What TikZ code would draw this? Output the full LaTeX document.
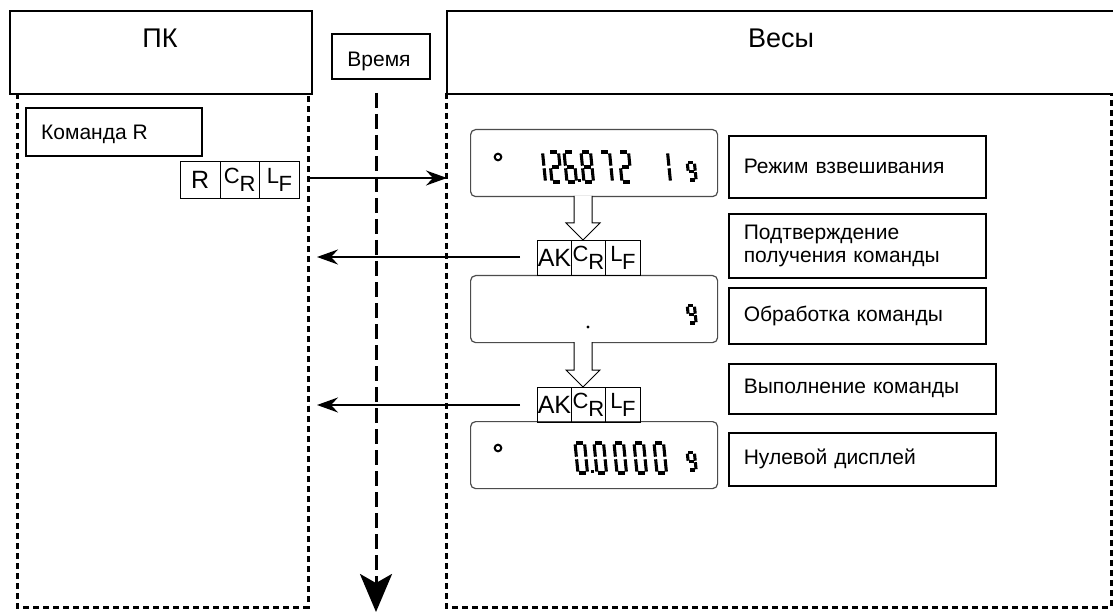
\documentclass[tikz,border=0pt]{standalone}
\usepackage{fontspec}
\setmainfont{Liberation Sans}
\newfontfamily\cellfont{Liberation Sans}
\usetikzlibrary{arrows.meta}
\tikzset{
  frame/.style={draw, line width=1.6pt, inner sep=0pt, anchor=north west},
  hdrtext/.style={anchor=base, inner sep=0pt, font=\fontsize{27}{27}\selectfont},
  cell/.style={draw, line width=0.9pt, inner sep=0pt, anchor=north west, font=\cellfont\fontsize{25}{25}\selectfont},
  subcell/.style={cell, font=\cellfont\fontsize{22}{22}\selectfont},
  txtbox/.style={draw, line width=1.6pt, inner xsep=15pt, inner ysep=0pt, anchor=north west, align=left, font=\fontsize{21}{23.5}\selectfont},
  disp/.style={draw=black!70, line width=1.2pt, rounded corners=5pt, inner sep=0pt, anchor=north west},
  dotl/.style={line width=3pt, dash pattern=on 6pt off 4pt},
  timel/.style={line width=3pt, dash pattern=on 15pt off 6pt, -{Stealth[length=38pt,width=32pt,inset=9pt]}},
  msg/.style={line width=2pt, -{Stealth[length=21pt,width=15pt,inset=7pt]}},
  hollow/.style={draw, fill=white, line width=1pt, line join=miter},
  seg/.style={line width=3.1pt, line cap=butt},
}
\pgfkeys{
  /seg/a/.code={\draw[seg] (1.4,30)--(8.1,30);},
  /seg/b/.code={\draw[seg] (9.5,28.6)--(9.5,16.3);},
  /seg/c/.code={\draw[seg] (9.5,13.7)--(9.5,1.4);},
  /seg/d/.code={\draw[seg] (1.4,0)--(8.1,0);},
  /seg/e/.code={\draw[seg] (0,1.4)--(0,13.7);},
  /seg/f/.code={\draw[seg] (0,16.3)--(0,28.6);},
  /seg/g/.code={\draw[seg] (1.4,15)--(8.1,15);},
}
% digit: [extra options]{x}{bottom y}{segments}
\newcommand\dig[4][]{%
  \begin{scope}[shift={(#2,#3)}, yscale=-1, xslant=0.1, #1]
    \foreach \s in {#4} {\pgfkeys{/seg/\s}}
  \end{scope}}
\begin{document}
\begin{tikzpicture}[x=1pt,y=-1pt]
\useasboundingbox (0,0) rectangle (1113,612);
\clip (0,0) rectangle (1113,612);
\fill[white] (0,0) rectangle (1113,612);

% header boxes
\node[frame, minimum width=302, minimum height=83] (pc) at (9,10) {};
\node[hdrtext] (pct) at (160,48) {ПК};
\node[frame, minimum width=98, minimum height=45] (time) at (331,33) {};
\node[hdrtext, font=\fontsize{21}{21}\selectfont] (timet) at (379,67) {Время};
\node[frame, minimum width=690, minimum height=83] (sc) at (446,10) {};
\node[hdrtext] (sct) at (781,48) {Весы};

% dotted lifelines
\coordinate (p1) at (17,93);  \coordinate (p2) at (17,607);
\coordinate (p3) at (308,607); \coordinate (p4) at (308,93);
\draw[dotl] (p1) -- (p2) -- (p3) -- (p4);
\coordinate (s1) at (446,93);  \coordinate (s2) at (446,607);
\coordinate (s3) at (1111,607); \coordinate (s4) at (1111,93);
\draw[dotl] (s1) -- (s2) -- (s3) -- (s4);

% time axis
\coordinate (t0) at (376,93); \coordinate (t1) at (376,612);
\draw[timel] (t0) -- (t1);

% PC side
\node[frame, minimum width=176, minimum height=48] (cmd) at (25,107) {};
\node[anchor=base west, inner sep=0pt, font=\fontsize{21}{21}\selectfont] (cmdt) at (41,140) {Команда R};
\node[cell, minimum width=39.5, minimum height=37] (c1) at (180,161) {R};
\node[subcell, minimum width=39.5, minimum height=37] (c2) at (219.5,161) {\raisebox{3pt}{C}\raisebox{-5pt}{R}};
\node[subcell, minimum width=40, minimum height=37] (c3) at (259,161) {\raisebox{3pt}{L}\kern-0.5pt\raisebox{-5pt}{F}};

% message arrow PC -> scale
\coordinate (m1a) at (310,178); \coordinate (m1b) at (447,178);
\draw[msg] (m1a) -- (m1b);

% displays
\node[disp, minimum width=247, minimum height=67] (d1) at (470,129) {};
\node[disp, minimum width=247, minimum height=67] (d2) at (470,275) {};
\node[disp, minimum width=247, minimum height=67] (d3) at (470,421) {};

% display 1 content
\draw[line width=2pt] (498,157) circle (3.3);
\dig{536}{182}{b,c}
\dig{552}{182}{a,b,g,e,d}
\dig{567}{182}{a,f,g,e,d,c}
\fill (578,179.5) rectangle (581,182.5);
\dig{584}{182}{a,b,c,d,e,f,g}
\dig{603}{182}{a,b,c}
\dig{622}{182}{a,b,g,e,d}
\dig{661}{182}{b,c}
\dig[xscale=0.75,yscale=0.57]{689}{180}{a,b,c,d,f,g}

% display 2 content
\fill (588,327) circle (1.6);
\dig[xscale=0.75,yscale=0.57]{689}{323}{a,b,c,d,f,g}

% display 3 content
\draw[line width=2pt] (498,448) circle (3.3);
\dig{578}{473}{a,b,c,d,e,f}
\fill (591,470) rectangle (594,473);
\dig{597}{473}{a,b,c,d,e,f}
\dig{617}{473}{a,b,c,d,e,f}
\dig{637}{473}{a,b,c,d,e,f}
\dig{657}{473}{a,b,c,d,e,f}
\dig[xscale=0.75,yscale=0.57]{689}{470}{a,b,c,d,f,g}

% hollow arrows
\draw[hollow] (574,196) -- (574,223) -- (566,223) -- (583,240) -- (600,223) -- (592,223) -- (592,196);
\draw[hollow] (574,342) -- (574,370) -- (566,370) -- (583,387) -- (600,370) -- (592,370) -- (592,342);

% acknowledge cells
\node[cell, minimum width=34, minimum height=35] (a1) at (537,240) {AK};
\node[subcell, minimum width=34, minimum height=35] (a2) at (571,240) {\raisebox{3pt}{C}\raisebox{-5pt}{R}};
\node[subcell, minimum width=35, minimum height=35] (a3) at (605,240) {\raisebox{3pt}{L}\kern-0.5pt\raisebox{-5pt}{F}};
\node[cell, minimum width=34, minimum height=35] (b1) at (537,387) {AK};
\node[subcell, minimum width=34, minimum height=35] (b2) at (571,387) {\raisebox{3pt}{C}\raisebox{-5pt}{R}};
\node[subcell, minimum width=35, minimum height=35] (b3) at (605,387) {\raisebox{3pt}{L}\kern-0.5pt\raisebox{-5pt}{F}};

% message arrows scale -> PC
\coordinate (m2a) at (520,257); \coordinate (m2b) at (317,257);
\draw[msg] (m2a) -- (m2b);
\coordinate (m3a) at (520,405); \coordinate (m3b) at (317,405);
\draw[msg] (m3a) -- (m3b);

% description boxes
\node[txtbox, minimum height=62, text width=227] (l1) at (728,135) {Режим взвешивания};
\node[txtbox, minimum height=64, text width=227] (l2) at (728,213) {Подтверждение\\получения команды};
\node[txtbox, minimum height=56, text width=227] (l3) at (728,287) {Обработка команды};
\node[txtbox, minimum height=50, text width=237] (l4) at (728,363) {Выполнение команды};
\node[txtbox, minimum height=53, text width=237] (l5) at (728,432) {Нулевой дисплей};
\end{tikzpicture}
\end{document}
